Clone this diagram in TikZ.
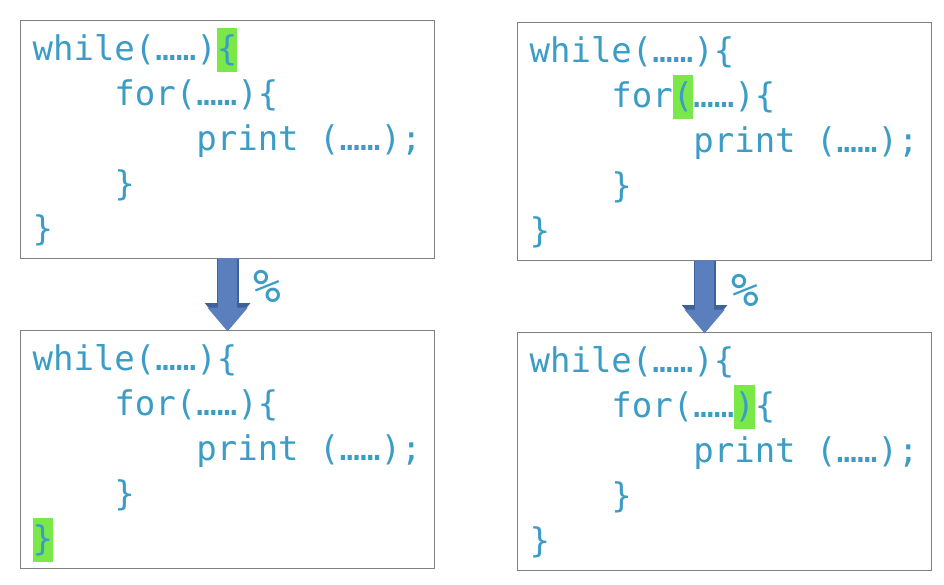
\documentclass[tikz,border=0pt]{standalone}
\usepackage{fontspec}
\setmonofont{DejaVu Sans Mono}
\usetikzlibrary{arrows.meta,positioning}
\definecolor{codeblue}{RGB}{59,156,198}
\definecolor{hlgreen}{RGB}{122,232,72}
\definecolor{boxgray}{RGB}{128,128,128}
\definecolor{arrowblue}{RGB}{91,127,188}
\definecolor{arrowdark}{RGB}{62,96,156}
\newcommand{\cstrut}{\rule[-11pt]{0pt}{44pt}}
\newcommand{\hlg}[1]{{\setlength{\fboxsep}{0pt}\colorbox{hlgreen}{\cstrut#1}}}
\newcommand{\tb}{\phantom{xxxx}}
\newcommand{\onesp}{\phantom{x}}

\begin{document}
\begin{tikzpicture}[x=1pt,y=-1pt,
  codebox/.style={draw=boxgray,line width=1.2pt,anchor=north west,
    minimum width=414pt,minimum height=238pt,text width=390pt,
    inner xsep=12pt,inner ysep=0pt,align=left,text=codeblue,
    font=\ttfamily\fontsize{34}{45}\selectfont},
  pct/.style={text=codeblue,inner sep=0pt,font=\ttfamily\fontsize{46}{46}\selectfont}]
  \useasboundingbox[fill=white] (0,0) rectangle (944,584);
  % before:
  \node[codebox] (C1) at (20,20) {\cstrut while(……)\hlg{\{}\\
    \tb for(……)\{\\
    \tb\tb print\onesp(……);\\
    \tb \}\\
    \cstrut\}};
  \node[codebox] (C2) at (517,22) {\cstrut while(……)\{\\
    \tb for\hlg{(}……)\{\\
    \tb\tb print\onesp(……);\\
    \tb \}\\
    \cstrut\}};
  % after:
  \node[codebox] (D1) at (20,330) {\cstrut while(……)\{\\
    \tb for(……)\{\\
    \tb\tb print\onesp(……);\\
    \tb \}\\
    \hlg{\}}};
  \node[codebox] (D2) at (517,332) {\cstrut while(……)\{\\
    \tb for(……\hlg{)}\{\\
    \tb\tb print\onesp(……);\\
    \tb \}\\
    \cstrut\}};
  % arrows:
  \coordinate (a2) at ([xshift=-20pt]C2.south);
  \coordinate (b2) at ([xshift=-20pt]D2.north);
  \begin{scope}[line width=22pt,arrowdark,-{Triangle[length=27pt,width=44pt]}]
    \draw (C1.south) -- (D1.north);
    \draw (a2) -- (b2);
  \end{scope}
  \begin{scope}[line width=19pt,arrowblue,-{Triangle[length=24pt,width=39pt]}]
    \draw ([yshift=1pt]C1.south) -- ([yshift=-1.5pt]D1.north);
    \draw ([yshift=1pt]a2) -- ([yshift=-1.5pt]b2);
  \end{scope}
  \node[pct] (P1) at (267,286) {\%};
  \node[pct] (P2) at (745,290) {\%};
\end{tikzpicture}
\end{document}
